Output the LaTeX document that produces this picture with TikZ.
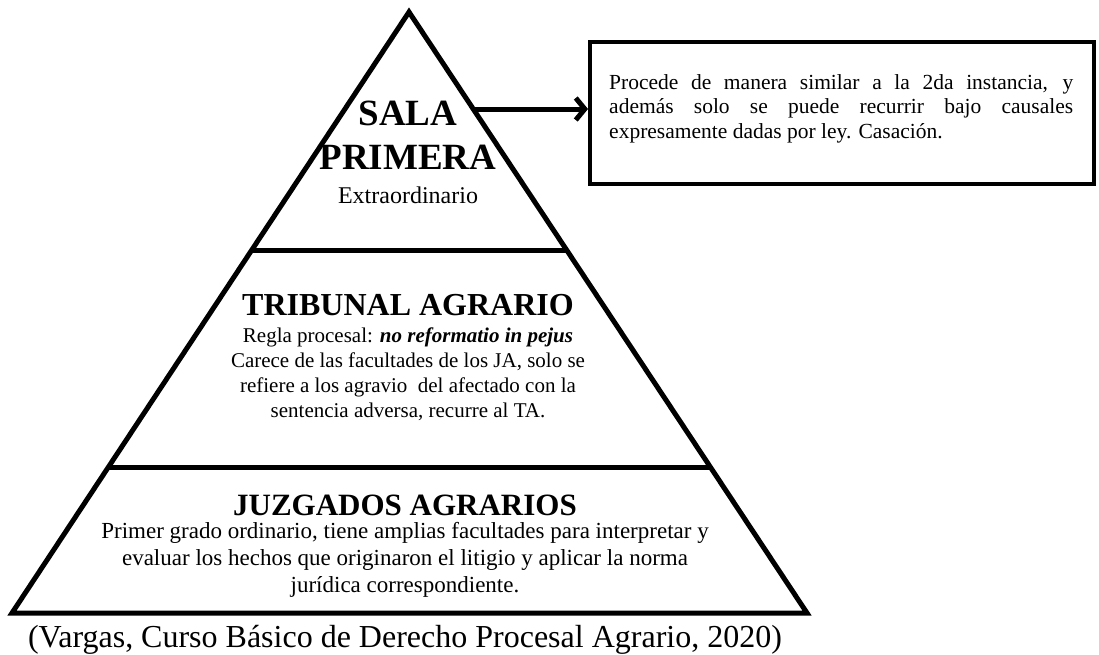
\documentclass[tikz,border=0pt]{standalone}
\usepackage{fontspec}
\setmainfont{Liberation Serif}[BoldFont={Liberation Serif Bold}, ItalicFont={Liberation Serif Italic}, BoldItalicFont={Liberation Serif Bold Italic}]
\usetikzlibrary{arrows.meta,calc}
\hyphenpenalty=10000
\exhyphenpenalty=10000
\tikzset{
  edge/.style={line width=5pt, line join=miter},
  title/.style={font=\bfseries\fontsize{32}{36}\selectfont, inner sep=0pt, anchor=base},
  body/.style={font=\fontsize{21}{25}\selectfont, inner sep=0pt, align=center, anchor=north},
  note/.style={draw, line width=4pt, minimum width=504pt, minimum height=142pt, inner sep=0pt, anchor=north west},
  conn/.style={line width=5pt, -{Straight Barb[length=9pt,width=22pt]}},
}
\begin{document}
\begin{tikzpicture}[x=1pt,y=-1pt]
\useasboundingbox (0,0) rectangle (1099,654);
\coordinate (A) at (409,12);
\coordinate (BL) at (12,613);
\coordinate (BR) at (807,613);
\coordinate (L1) at ($(A)!0.3960!(BL)$);
\coordinate (R1) at ($(A)!0.3960!(BR)$);
\coordinate (L2) at ($(A)!0.7587!(BL)$);
\coordinate (R2) at ($(A)!0.7587!(BR)$);
\coordinate (S) at ($(A)!0.1614!(BR)$);
\draw[edge] (A) -- (BR) -- (BL) -- cycle;
\draw[edge] (L1) -- (R1);
\draw[edge] (L2) -- (R2);
% top level
\node[font=\bfseries\fontsize{37}{44}\selectfont, inner sep=0pt, align=center, anchor=north] (sala) at (408,101) {SALA\\PRIMERA};
\node[font=\fontsize{24}{28}\selectfont, inner sep=0pt, anchor=base] (extra) at (408,203) {Extraordinario};
% middle
\node[title] (trib) at (408,315) {TRIBUNAL AGRARIO};
\node[body] (tribtxt) at (408,328) {Regla procesal: \textbf{\textit{no reformatio in pejus}}\\Carece de las facultades de los JA, solo se\\refiere a los agravio\ \ del afectado con la\\sentencia adversa, recurre al TA.};
% bottom
\node[title, font=\bfseries\fontsize{31}{36}\selectfont] (juz) at (405,515) {JUZGADOS AGRARIOS};
\node[body, font=\fontsize{23}{27}\selectfont] (juztxt) at (405,522) {Primer grado ordinario, tiene amplias facultades para interpretar y\\evaluar los hechos que originaron el litigio y aplicar la norma\\jurídica correspondiente.};
% citation
\node[font=\fontsize{32}{36}\selectfont, inner sep=0pt, anchor=base] (cite) at (405,647) {(Vargas, Curso Básico de Derecho Procesal Agrario, 2020)};
% box
\node[note] (box) at (588,40) {};
\node[font=\fontsize{21.5}{24.5}\selectfont, inner sep=0pt, text width=464pt, align=justify, anchor=north west] (boxtxt) at (609,74) {Procede de manera similar a la 2da instancia, y\linebreak además solo se puede recurrir bajo causales\linebreak expresamente dadas por ley. Casación.};
\draw[conn] (S) -- (S -| box.west);
\end{tikzpicture}
\end{document}
